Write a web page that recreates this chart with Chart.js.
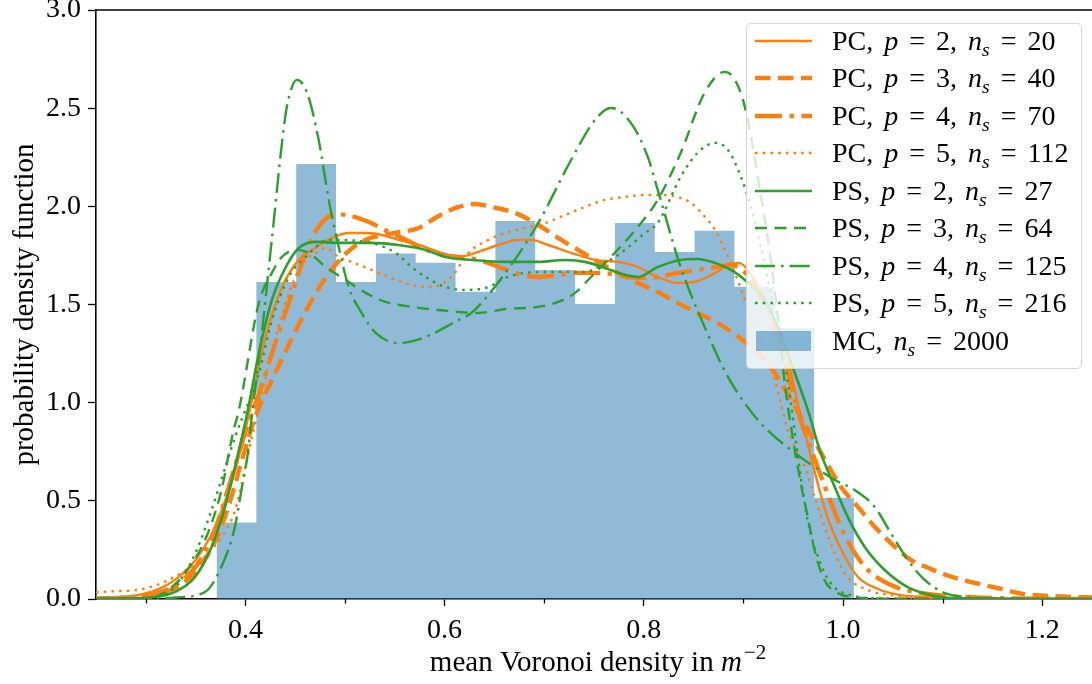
<!DOCTYPE html>
<html lang="en">
<head>
<meta charset="UTF-8">
<title>Voronoi density PDF</title>
<script src="https://cdn.jsdelivr.net/npm/chart.js"></script>
<style>
  body { margin: 0; background: #fff; }
  .wrap { position: relative; width: 1092px; height: 684px; }
  #legend {
    position: absolute; left: 746px; top: 23px; width: 336px; height: 346px;
    box-sizing: border-box; background: rgba(255,255,255,0.8);
    border: 1.5px solid rgba(204,204,204,0.8); border-radius: 5px;
    font-family: "Liberation Serif", serif; font-size: 28px; color: #000;
    word-spacing: 4px;
  }
  #legend .rows { margin-top: -2px; }
  .row { height: 37.5px; display: flex; align-items: center; }
  .row svg { margin-left: 8px; flex: none; }
  .row .t { margin-left: 20px; white-space: nowrap; }
  .sub { font-size: 0.7em; font-style: italic; position: relative; top: 0.3em; }
</style>
</head>
<body>
<div class="wrap">
  <canvas id="grafico" width="1092" height="684"></canvas>
  <div id="legend"><div class="rows"></div></div>
</div>

<script>
// histogram (MC, ns = 2000)
const binEdges = [0.371, 0.411, 0.451, 0.491, 0.531, 0.571, 0.611, 0.651, 0.691, 0.731, 0.771, 0.811, 0.851, 0.891, 0.931, 0.971, 1.011];
const binHeights = [0.39, 1.615, 2.216, 1.615, 1.76, 1.713, 1.565, 1.925, 1.676, 1.503, 1.915, 1.767, 1.876, 1.591, 1.38, 0.516];

// PC curves
const pcP2X = [0.25, 0.27, 0.29, 0.31, 0.33, 0.35, 0.365, 0.376, 0.39, 0.403, 0.42, 0.437, 0.454, 0.471, 0.487, 0.504, 0.521, 0.537, 0.554, 0.574, 0.594, 0.614, 0.634, 0.654, 0.674, 0.687, 0.704, 0.727, 0.751, 0.774, 0.794, 0.814, 0.834, 0.851, 0.868, 0.885, 0.895, 0.902, 0.915, 0.928, 0.942, 0.955, 0.968, 0.98, 0.988, 1.002, 1.015, 1.035, 1.058, 1.082, 1.12, 1.25];
const pcP2Y = [0.003, 0.008, 0.018, 0.045, 0.1, 0.2, 0.32, 0.45, 0.66, 0.93, 1.33, 1.59, 1.73, 1.79, 1.84, 1.864, 1.864, 1.854, 1.829, 1.803, 1.768, 1.742, 1.768, 1.803, 1.829, 1.829, 1.803, 1.763, 1.727, 1.717, 1.691, 1.64, 1.61, 1.615, 1.651, 1.701, 1.712, 1.691, 1.589, 1.457, 1.27, 0.99, 0.72, 0.49, 0.367, 0.214, 0.112, 0.051, 0.02, 0.01, 0.003, 0];

const pcP3X = [0.25, 0.28, 0.30, 0.32, 0.34, 0.355, 0.37, 0.383, 0.395, 0.41, 0.427, 0.444, 0.461, 0.481, 0.501, 0.521, 0.547, 0.574, 0.594, 0.614, 0.631, 0.647, 0.671, 0.694, 0.717, 0.734, 0.754, 0.774, 0.794, 0.814, 0.834, 0.854, 0.874, 0.895, 0.915, 0.928, 0.948, 0.965, 0.982, 0.998, 1.015, 1.032, 1.048, 1.068, 1.085, 1.102, 1.128, 1.155, 1.182, 1.208, 1.235, 1.25];
const pcP3Y = [0.002, 0.006, 0.012, 0.035, 0.09, 0.17, 0.3, 0.47, 0.68, 0.93, 1.12, 1.3, 1.47, 1.64, 1.76, 1.83, 1.862, 1.89, 1.951, 1.997, 2.012, 1.997, 1.966, 1.905, 1.829, 1.778, 1.717, 1.661, 1.61, 1.564, 1.508, 1.457, 1.406, 1.335, 1.253, 1.177, 1.014, 0.861, 0.708, 0.571, 0.469, 0.367, 0.285, 0.199, 0.16, 0.125, 0.087, 0.056, 0.025, 0.015, 0.01, 0.008];

const pcP4X = [0.25, 0.28, 0.30, 0.32, 0.34, 0.355, 0.37, 0.385, 0.4, 0.414, 0.431, 0.447, 0.461, 0.474, 0.491, 0.507, 0.524, 0.544, 0.561, 0.581, 0.601, 0.614, 0.634, 0.657, 0.677, 0.694, 0.714, 0.734, 0.754, 0.774, 0.794, 0.814, 0.834, 0.854, 0.872, 0.888, 0.902, 0.915, 0.928, 0.942, 0.955, 0.972, 0.982, 0.995, 1.008, 1.025, 1.048, 1.072, 1.095, 1.15, 1.25];
const pcP4Y = [0.003, 0.008, 0.018, 0.045, 0.11, 0.2, 0.36, 0.6, 0.85, 1.05, 1.32, 1.56, 1.77, 1.9, 1.96, 1.95, 1.92, 1.87, 1.83, 1.78, 1.75, 1.742, 1.727, 1.686, 1.651, 1.64, 1.651, 1.661, 1.661, 1.651, 1.635, 1.64, 1.661, 1.676, 1.691, 1.701, 1.661, 1.559, 1.437, 1.2, 0.95, 0.708, 0.571, 0.402, 0.265, 0.148, 0.071, 0.036, 0.02, 0.005, 0];

const pcP5X = [0.25, 0.27, 0.29, 0.306, 0.32, 0.335, 0.35, 0.366, 0.3825, 0.3895, 0.406, 0.4205, 0.4436, 0.4606, 0.4706, 0.4807, 0.4937, 0.5067, 0.5268, 0.5468, 0.5668, 0.5869, 0.6069, 0.6239, 0.644, 0.661, 0.681, 0.701, 0.721, 0.741, 0.761, 0.781, 0.801, 0.814, 0.834, 0.8475, 0.8615, 0.8715, 0.8815, 0.8915, 0.9015, 0.9115, 0.9215, 0.9315, 0.9446, 0.9616, 0.9716, 0.9817, 0.9917, 1.0047, 1.0248, 1.0478, 1.08, 1.25];
const pcP5Y = [0.035, 0.04, 0.045, 0.063, 0.09, 0.13, 0.18, 0.25, 0.367, 0.45, 0.81, 1.131, 1.559, 1.727, 1.763, 1.788, 1.742, 1.717, 1.676, 1.635, 1.6, 1.589, 1.64, 1.763, 1.829, 1.864, 1.89, 1.915, 1.956, 1.997, 2.033, 2.048, 2.058, 2.058, 2.048, 2.017, 1.946, 1.88, 1.778, 1.661, 1.523, 1.386, 1.253, 1.116, 0.861, 0.672, 0.52, 0.367, 0.234, 0.112, 0.046, 0.02, 0.005, 0];

// PS curves
const psP2X = [0.25, 0.28, 0.3093, 0.3294, 0.3494, 0.366, 0.3795, 0.3895, 0.4025, 0.4135, 0.4266, 0.4406, 0.4536, 0.4706, 0.4937, 0.5268, 0.5538, 0.5809, 0.6009, 0.627, 0.661, 0.694, 0.721, 0.741, 0.761, 0.781, 0.794, 0.814, 0.837, 0.854, 0.8715, 0.8875, 0.9015, 0.9215, 0.9345, 0.9516, 0.9646, 0.9776, 0.9917, 1.0047, 1.0218, 1.0418, 1.0649, 1.088, 1.108, 1.25];
const psP2Y = [0.001, 0.003, 0.01, 0.036, 0.112, 0.265, 0.469, 0.672, 0.963, 1.253, 1.523, 1.691, 1.788, 1.819, 1.814, 1.814, 1.803, 1.778, 1.742, 1.727, 1.717, 1.717, 1.727, 1.717, 1.686, 1.651, 1.64, 1.691, 1.727, 1.732, 1.712, 1.676, 1.625, 1.523, 1.386, 1.151, 0.963, 0.744, 0.571, 0.418, 0.265, 0.148, 0.061, 0.02, 0.005, 0];

const psP3X = [0.25, 0.28, 0.3035, 0.3263, 0.3494, 0.3624, 0.376, 0.3875, 0.3935, 0.4135, 0.4266, 0.4366, 0.4506, 0.4636, 0.4807, 0.5007, 0.5207, 0.5408, 0.5668, 0.5939, 0.634, 0.661, 0.694, 0.714, 0.731, 0.747, 0.767, 0.794, 0.814, 0.837, 0.861, 0.8815, 0.8915, 0.9015, 0.9145, 0.9275, 0.935, 0.941, 0.948, 0.9576, 0.9646, 0.9713, 0.9813, 0.9947, 1.01, 1.05, 1.25];
const psP3Y = [0, 0.001, 0.005, 0.061, 0.204, 0.336, 0.555, 0.846, 0.963, 1.508, 1.661, 1.742, 1.778, 1.763, 1.691, 1.625, 1.559, 1.513, 1.488, 1.472, 1.457, 1.477, 1.488, 1.513, 1.559, 1.64, 1.742, 1.895, 2.033, 2.272, 2.578, 2.685, 2.644, 2.506, 2.15, 1.727, 1.42, 1.12, 0.87, 0.59, 0.418, 0.25, 0.097, 0.03, 0.01, 0.002, 0];

const psP4X = [0.25, 0.30, 0.33, 0.3594, 0.376, 0.3895, 0.396, 0.4025, 0.406, 0.4135, 0.4266, 0.44, 0.445, 0.4516, 0.4616, 0.4736, 0.4837, 0.4937, 0.5037, 0.5167, 0.5308, 0.5538, 0.5809, 0.6139, 0.627, 0.661, 0.694, 0.727, 0.751, 0.767, 0.787, 0.804, 0.814, 0.837, 0.861, 0.8845, 0.9145, 0.9516, 0.9716, 0.9917, 1.0117, 1.0318, 1.048, 1.065, 1.082, 1.102, 1.122, 1.16, 1.25];
const psP4Y = [0, 0.001, 0.008, 0.036, 0.165, 0.368, 0.555, 0.744, 0.912, 1.218, 1.834, 2.457, 2.58, 2.644, 2.583, 2.338, 2.033, 1.793, 1.589, 1.457, 1.355, 1.304, 1.335, 1.421, 1.457, 1.661, 1.915, 2.236, 2.44, 2.501, 2.425, 2.252, 2.084, 1.691, 1.386, 1.131, 0.912, 0.744, 0.672, 0.606, 0.555, 0.469, 0.336, 0.199, 0.097, 0.031, 0.01, 0.002, 0];

const psP5X = [0.25, 0.30, 0.3263, 0.3394, 0.3524, 0.366, 0.39, 0.4135, 0.4266, 0.4436, 0.4606, 0.4837, 0.5137, 0.5508, 0.5668, 0.5809, 0.6009, 0.621, 0.644, 0.661, 0.681, 0.711, 0.741, 0.761, 0.781, 0.801, 0.814, 0.837, 0.854, 0.8715, 0.8845, 0.8975, 0.9075, 0.9175, 0.9275, 0.936, 0.9476, 0.9576, 0.9646, 0.9746, 0.9877, 1.0077, 1.04, 1.25];
const psP5Y = [0, 0.005, 0.046, 0.132, 0.265, 0.453, 0.83, 1.15, 1.42, 1.64, 1.742, 1.829, 1.824, 1.763, 1.691, 1.64, 1.589, 1.574, 1.589, 1.635, 1.661, 1.666, 1.666, 1.712, 1.778, 1.864, 1.915, 2.15, 2.272, 2.323, 2.287, 2.15, 1.997, 1.793, 1.559, 1.38, 1.0, 0.62, 0.4, 0.22, 0.08, 0.02, 0.003, 0];

// ticks
const xTicks = [0.4, 0.6, 0.8, 1.0, 1.2];
const xMinorTicks = [0.3, 0.5, 0.7, 0.9, 1.1];
const yTicks = [0, 0.5, 1.0, 1.5, 2.0, 2.5, 3.0];

const LARANJA = '#ff7f0e';
const VERDE = '#2ca02c';
const AZUL = 'rgba(31,119,180,0.5)';
const FONTE = '"Liberation Serif", serif';

// one entry per legend row (html label + style)
const series = [
    { label: 'PC, <i>p</i> = 2, <i>n</i><span class="sub">s</span> = 20', x: pcP2X, y: pcP2Y, cor: LARANJA, w: 2.4, dash: [] },
    { label: 'PC, <i>p</i> = 3, <i>n</i><span class="sub">s</span> = 40', x: pcP3X, y: pcP3Y, cor: LARANJA, w: 4.4, dash: [15.5, 7.5] },
    { label: 'PC, <i>p</i> = 4, <i>n</i><span class="sub">s</span> = 70', x: pcP4X, y: pcP4Y, cor: LARANJA, w: 4.4, dash: [27, 7.5, 4.4, 7.5] },
    { label: 'PC, <i>p</i> = 5, <i>n</i><span class="sub">s</span> = 112', x: pcP5X, y: pcP5Y, cor: LARANJA, w: 2.4, dash: [2.6, 5.1] },
    { label: 'PS, <i>p</i> = 2, <i>n</i><span class="sub">s</span> = 27', x: psP2X, y: psP2Y, cor: VERDE, w: 2.6, dash: [] },
    { label: 'PS, <i>p</i> = 3, <i>n</i><span class="sub">s</span> = 64', x: psP3X, y: psP3Y, cor: VERDE, w: 2.4, dash: [12, 7.5] },
    { label: 'PS, <i>p</i> = 4, <i>n</i><span class="sub">s</span> = 125', x: psP4X, y: psP4Y, cor: VERDE, w: 2.4, dash: [20, 6, 2.6, 6] },
    { label: 'PS, <i>p</i> = 5, <i>n</i><span class="sub">s</span> = 216', x: psP5X, y: psP5Y, cor: VERDE, w: 2.4, dash: [2.6, 5.1] }
];

const datasets = series.map((s, i) => ({
    label: s.label,
    data: s.x.map((v, k) => ({ x: v, y: s.y[k] })),
    borderColor: s.cor,
    borderWidth: s.w,
    borderDash: s.dash,
    pointRadius: 0,
    fill: false,
    cubicInterpolationMode: 'monotone',
    order: 9 - i
}));

// histogram as a stepped filled line
const histPts = [{ x: binEdges[0], y: 0 }];
binHeights.forEach((h, i) => histPts.push({ x: binEdges[i], y: h }));
histPts.push({ x: binEdges[binEdges.length - 1], y: 0 });
datasets.push({
    label: 'MC',
    data: histPts,
    stepped: 'before',
    borderColor: 'rgba(0,0,0,0)',
    borderWidth: 0,
    backgroundColor: AZUL,
    fill: 'origin',
    pointRadius: 0,
    order: 20
});

const moldura = {
    id: 'moldura',
    afterDraw(chart) {
        const { ctx, chartArea: a, scales } = chart;
        ctx.save();
        ctx.strokeStyle = '#000';
        ctx.lineWidth = 1.6;
        ctx.beginPath();
        ctx.moveTo(a.left, a.top);
        ctx.lineTo(a.right, a.top);
        ctx.stroke();

        ctx.lineWidth = 1.3;
        ctx.beginPath();
        xMinorTicks.forEach(v => {
            const px = Math.round(scales.x.getPixelForValue(v)) + 0.5;
            ctx.moveTo(px, a.bottom);
            ctx.lineTo(px, a.bottom + 4.5);
        });
        ctx.stroke();

        // x title with italic m and superscript
        ctx.fillStyle = '#000';
        ctx.textBaseline = 'alphabetic';
        const parts = [
            ['mean Voronoi density in ', '29px ' + FONTE, 0],
            ['m', 'italic 29px ' + FONTE, 0],
            ['\u22122', '21px ' + FONTE, -12]
        ];
        let total = 0;
        parts.forEach(p => { ctx.font = p[1]; total += ctx.measureText(p[0]).width + (p[2] ? 2 : 0); });
        let cx = 598 - total / 2;
        parts.forEach(p => {
            ctx.font = p[1];
            if (p[2]) cx += 2;
            ctx.fillText(p[0], cx, 671 + p[2]);
            cx += ctx.measureText(p[0]).width;
        });

        // y title
        ctx.font = '29px ' + FONTE;
        ctx.textAlign = 'center';
        ctx.translate(33, (a.top + a.bottom) / 2);
        ctx.rotate(-Math.PI / 2);
        ctx.fillText('probability density function', 0, 0);
        ctx.restore();
    }
};

const ctx = document.getElementById('grafico').getContext('2d');
new Chart(ctx, {
    type: 'line',
    data: { datasets: datasets },
    options: {
        responsive: false,
        animation: false,
        layout: { padding: { top: 10, right: 0, bottom: 0, left: 0 } },
        plugins: {
            legend: { display: false },
            tooltip: { enabled: false }
        },
        scales: {
            x: {
                type: 'linear',
                min: 0.25,
                max: 1.25,
                afterBuildTicks: axis => { axis.ticks = xTicks.map(v => ({ value: v })); },
                afterFit: s => { s.height = 85; s.paddingLeft = 0; s.paddingRight = 0; },
                ticks: {
                    callback: v => v.toFixed(1),
                    font: { family: FONTE, size: 28 },
                    color: '#000',
                    padding: 8,
                    maxRotation: 0,
                    autoSkip: false
                },
                grid: { drawOnChartArea: false, tickLength: 7, tickColor: '#000', tickWidth: 1.3 },
                border: { color: '#000', width: 1.6 }
            },
            y: {
                min: 0,
                max: 3,
                afterBuildTicks: axis => { axis.ticks = yTicks.map(v => ({ value: v })); },
                afterFit: s => { s.width = 96; s.paddingTop = 0; s.paddingBottom = 0; },
                ticks: {
                    callback: v => v.toFixed(1),
                    font: { family: FONTE, size: 28 },
                    color: '#000',
                    padding: 7,
                    autoSkip: false
                },
                grid: { drawOnChartArea: false, tickLength: 8, tickColor: '#000', tickWidth: 1.3 },
                border: { color: '#000', width: 1.6 }
            }
        }
    },
    plugins: [moldura]
});

// legend
const rows = document.querySelector('#legend .rows');
series.forEach(s => {
    const row = document.createElement('div');
    row.className = 'row';
    row.innerHTML = '<svg width="57" height="20"><line x1="0" y1="10" x2="57" y2="10" stroke="' + s.cor +
        '" stroke-width="' + s.w + '" stroke-dasharray="' + (s.dash.length ? s.dash.join(' ') : 'none') +
        '"/></svg><span class="t">' + s.label + '</span>';
    rows.appendChild(row);
});
const mc = document.createElement('div');
mc.className = 'row';
mc.innerHTML = '<svg width="57" height="20"><rect x="1" y="0" width="55" height="20" fill="' + AZUL +
    '"/></svg><span class="t">MC, <i>n</i><span class="sub">s</span> = 2000</span>';
rows.appendChild(mc);
</script>
</body>
</html>
